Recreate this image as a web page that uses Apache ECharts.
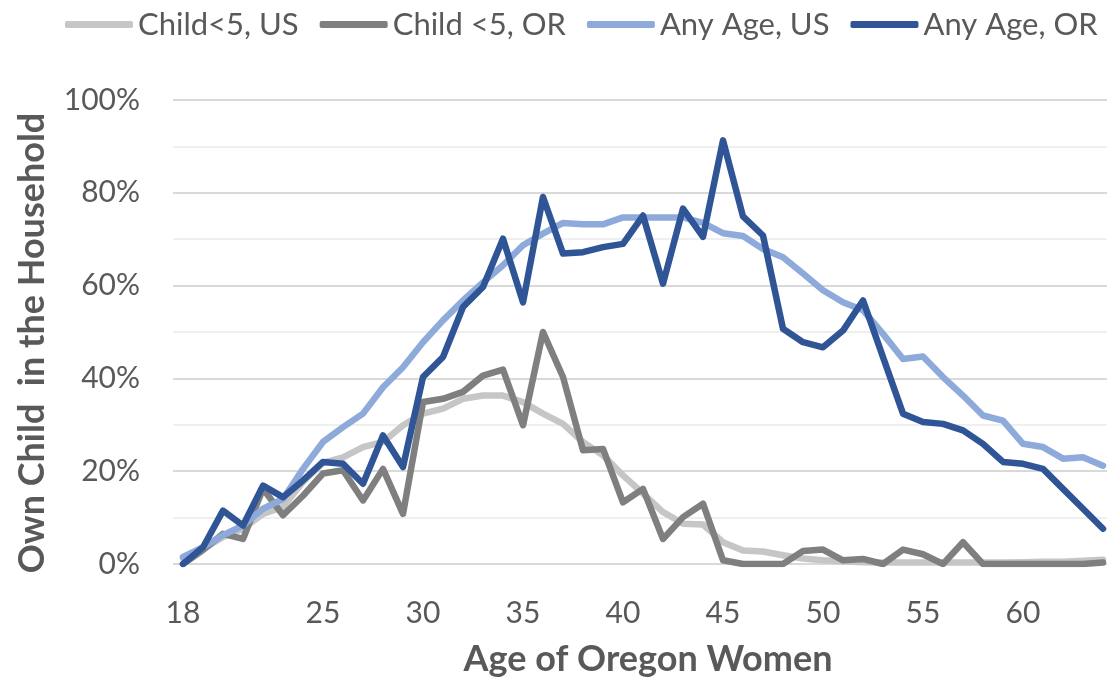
<!DOCTYPE html>
<html>
<head>
<meta charset="utf-8">
<script src="https://cdn.jsdelivr.net/npm/echarts@6/dist/echarts.min.js"></script>
<style>
html,body{margin:0;padding:0;background:#fff;}
#chart{width:1107px;height:687px;}
</style>
</head>
<body>
<div id="chart"></div>
<script>
// Ages 18..64
const ages = [18,19,20,21,22,23,24,25,26,27,28,29,30,31,32,33,34,35,36,37,38,39,40,41,42,43,44,45,46,47,48,49,50,51,52,53,54,55,56,57,58,59,60,61,62,63,64];
const ageTickLabels = [18,25,30,35,40,45,50,55,60];

const childUS = [1.2,3.2,5.8,7.6,10.8,12.3,17.7,21.8,23.0,25.2,26.3,29.9,32.4,33.5,35.6,36.3,36.3,34.9,32.4,30.2,26.3,23.4,19.1,15.2,11.2,8.7,8.5,4.7,2.9,2.7,1.9,1.2,0.8,0.6,0.4,0.3,0.3,0.3,0.3,0.3,0.3,0.3,0.4,0.5,0.5,0.7,0.9];
const childOR = [0,3.0,6.5,5.4,16.2,10.5,14.7,19.5,20.2,13.7,20.5,10.8,34.9,35.6,37.1,40.6,41.9,29.9,50.0,40.3,24.5,24.8,13.3,16.2,5.4,10.1,13.0,0.8,0,0,0,2.8,3.1,0.8,1.1,0,3.1,2.1,0,4.7,0,0,0,0,0,0,0.3];
const anyUS = [1.5,3.6,6.2,8.3,11.9,14.0,20.5,26.3,29.5,32.4,38.1,42.4,47.8,52.5,56.8,60.7,64.4,68.7,71.2,73.5,73.2,73.2,74.7,74.7,74.7,74.7,73.5,71.3,70.7,67.9,66.1,62.6,59.0,56.4,54.7,49.6,44.2,44.7,40.3,36.3,32.0,30.9,25.9,25.2,22.7,23.0,21.2];
const anyOR = [0,3.6,11.5,8.3,16.9,14.4,18.0,22.0,21.6,17.3,27.7,20.9,40.3,44.6,55.4,59.7,70.1,56.4,79.1,66.9,67.2,68.3,69.0,75.1,60.4,76.6,70.5,91.3,74.9,70.8,50.7,47.8,46.7,50.3,56.8,44.6,32.4,30.6,30.2,28.8,25.9,22.0,21.6,20.5,16.2,11.9,7.6];

const seriesNames = ['Child<5, US','Child <5, OR','Any Age, US','Any Age, OR'];
const seriesColors = ['#c6c6c6','#7f7f7f','#8eaadb','#2f5597'];
const seriesValues = [childUS, childOR, anyUS, anyOR];

const FONT = 'Lato, "Open Sans", "Noto Sans", sans-serif';
const TXT = '#595959';

const chart = echarts.init(document.getElementById('chart'), null, {renderer:'canvas'});
chart.setOption({
  animation:false,
  backgroundColor:'#ffffff',
  textStyle:{fontFamily:FONT},
  legend:{
    left:60, top:4,
    icon:'roundRect',
    itemWidth:68, itemHeight:7, itemGap:21,
    textStyle:{fontSize:31, color:TXT, fontFamily:FONT},
    data:seriesNames
  },
  grid:{left:173, right:0, top:100, bottom:123, containLabel:false},
  xAxis:{
    type:'value', min:17.5, max:64.2,
    name:'Age of Oregon Women', nameLocation:'middle', nameGap:77,
    nameTextStyle:{fontSize:36, fontWeight:'bold', color:TXT, fontFamily:FONT, padding:[0,0,0,16]},
    axisLine:{show:false}, axisTick:{show:false}, splitLine:{show:false},
    axisLabel:{customValues:ageTickLabels, fontSize:30, color:TXT, margin:34, fontFamily:FONT}
  },
  yAxis:{
    type:'value', min:0, max:100, interval:20,
    name:'Own Child  in the Household', nameLocation:'middle', nameGap:123,
    nameTextStyle:{fontSize:36, fontWeight:'bold', color:TXT, fontFamily:FONT, padding:[0,22,0,0]},
    axisLine:{show:false}, axisTick:{show:false},
    axisLabel:{formatter:'{value}%', fontSize:30, color:TXT, margin:33, fontFamily:FONT},
    splitLine:{lineStyle:{color:'#d9d9d9', width:2}},
    minorTick:{show:false, splitNumber:2},
    minorSplitLine:{show:true, lineStyle:{color:'#efefef', width:2}}
  },
  series:seriesNames.map((n,i)=>({
    name:n, type:'line', symbol:'none', smooth:false,
    color:seriesColors[i],
    lineStyle:{width:6.5, color:seriesColors[i], join:'round', cap:'round'},
    data:ages.map((a,j)=>[a, seriesValues[i][j]])
  }))
});
</script>
</body>
</html>
